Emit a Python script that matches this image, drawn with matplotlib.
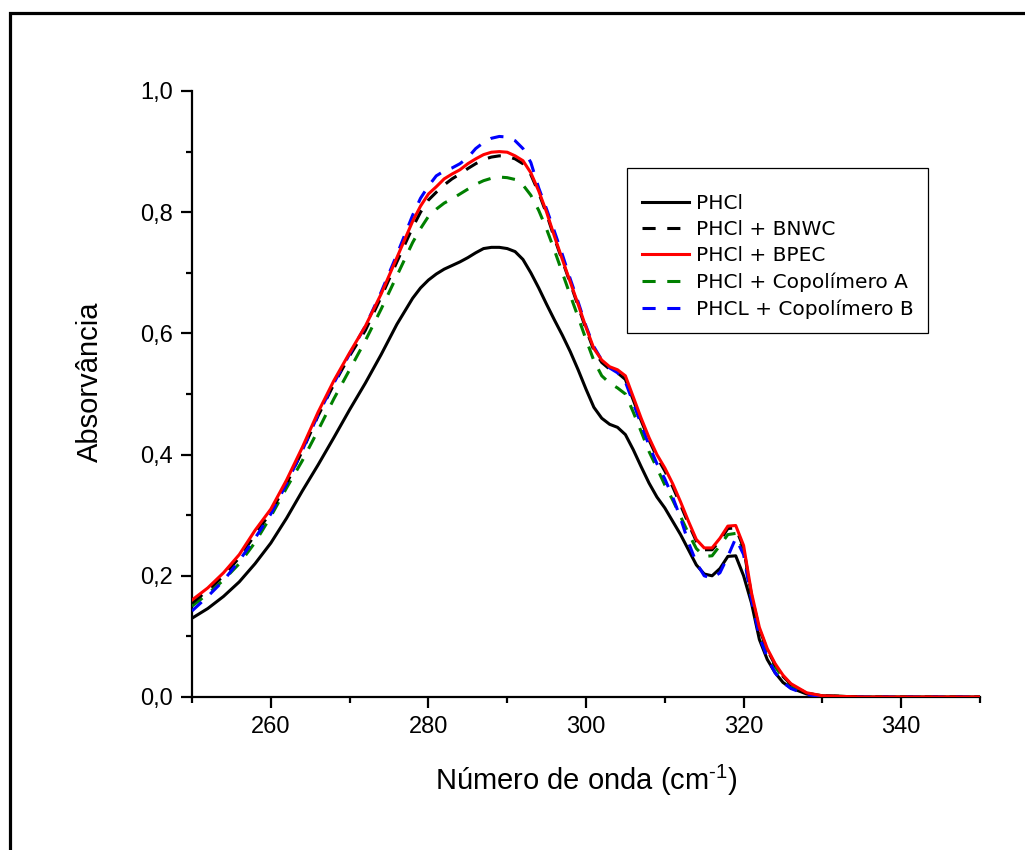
import matplotlib
matplotlib.use("Agg")
import matplotlib.pyplot as plt
from matplotlib.patches import Rectangle
from matplotlib.ticker import MultipleLocator, FuncFormatter

# ---- data -------------------------------------------------------------
wavenumber = [250, 252, 254, 256, 258, 260, 262, 264, 266, 268, 270, 272, 274, 276, 278,
              279, 280, 281, 282, 283, 284, 285, 286, 287, 288, 289, 290, 291, 292, 293,
              294, 295, 296, 297, 298, 299, 300, 301, 302, 303, 304, 305, 306, 307, 308,
              309, 310, 311, 312, 313, 314, 315, 316, 317, 318, 319, 320, 321, 322, 323,
              324, 325, 326, 328, 330, 335, 340, 345, 350]

phcl = [0.130, 0.146, 0.166, 0.190, 0.220, 0.254, 0.295, 0.340, 0.383, 0.428, 0.474, 0.518, 0.565, 0.615, 0.658,
        0.675, 0.688, 0.698, 0.706, 0.712, 0.718, 0.725, 0.733, 0.740, 0.742, 0.742, 0.740, 0.735, 0.722, 0.700,
        0.675, 0.648, 0.622, 0.597, 0.570, 0.540, 0.508, 0.478, 0.460, 0.450, 0.445, 0.433, 0.408, 0.380, 0.353,
        0.330, 0.312, 0.290, 0.268, 0.243, 0.218, 0.203, 0.200, 0.212, 0.232, 0.233, 0.200, 0.155, 0.095, 0.062,
        0.040, 0.024, 0.015, 0.005, 0.002, 0.000, 0.000, 0.000, 0.000]

phcl_bnwc = [0.155, 0.176, 0.200, 0.230, 0.268, 0.305, 0.352, 0.406, 0.464, 0.516, 0.563, 0.605, 0.660, 0.718, 0.775,
             0.800, 0.820, 0.833, 0.845, 0.855, 0.863, 0.872, 0.880, 0.887, 0.891, 0.893, 0.892, 0.888, 0.880, 0.862,
             0.832, 0.797, 0.757, 0.720, 0.683, 0.645, 0.607, 0.572, 0.552, 0.541, 0.535, 0.524, 0.490, 0.456, 0.424,
             0.396, 0.373, 0.347, 0.317, 0.286, 0.257, 0.243, 0.243, 0.258, 0.278, 0.279, 0.246, 0.168, 0.112, 0.078,
             0.053, 0.034, 0.021, 0.006, 0.002, 0.000, 0.000, 0.000, 0.000]

phcl_bpec = [0.160, 0.180, 0.205, 0.235, 0.275, 0.310, 0.358, 0.412, 0.470, 0.522, 0.568, 0.612, 0.665, 0.725, 0.785,
             0.810, 0.830, 0.842, 0.855, 0.863, 0.870, 0.880, 0.888, 0.895, 0.899, 0.900, 0.899, 0.893, 0.885, 0.865,
             0.835, 0.800, 0.760, 0.722, 0.685, 0.648, 0.610, 0.575, 0.556, 0.545, 0.540, 0.530, 0.495, 0.460, 0.428,
             0.400, 0.378, 0.352, 0.322, 0.290, 0.260, 0.246, 0.246, 0.262, 0.282, 0.283, 0.250, 0.172, 0.115, 0.080,
             0.055, 0.036, 0.022, 0.007, 0.002, 0.000, 0.000, 0.000, 0.000]

phcl_copA = [0.150, 0.170, 0.193, 0.220, 0.255, 0.298, 0.345, 0.390, 0.440, 0.492, 0.540, 0.588, 0.640, 0.695, 0.750,
             0.773, 0.793, 0.805, 0.815, 0.822, 0.830, 0.838, 0.846, 0.852, 0.856, 0.858, 0.857, 0.854, 0.845, 0.828,
             0.803, 0.772, 0.737, 0.700, 0.663, 0.627, 0.590, 0.555, 0.530, 0.518, 0.510, 0.500, 0.470, 0.438, 0.405,
             0.378, 0.350, 0.325, 0.298, 0.270, 0.245, 0.232, 0.233, 0.250, 0.268, 0.270, 0.242, 0.165, 0.110, 0.075,
             0.050, 0.032, 0.020, 0.006, 0.002, 0.000, 0.000, 0.000, 0.000]

phcl_copB = [0.142, 0.166, 0.192, 0.225, 0.262, 0.302, 0.352, 0.407, 0.466, 0.518, 0.566, 0.612, 0.668, 0.730, 0.795,
             0.823, 0.843, 0.860, 0.868, 0.873, 0.880, 0.890, 0.905, 0.915, 0.922, 0.925, 0.924, 0.918, 0.905, 0.882,
             0.840, 0.805, 0.768, 0.730, 0.690, 0.652, 0.612, 0.578, 0.556, 0.543, 0.535, 0.520, 0.485, 0.450, 0.415,
             0.385, 0.360, 0.330, 0.295, 0.255, 0.222, 0.200, 0.196, 0.205, 0.232, 0.262, 0.235, 0.160, 0.100, 0.065,
             0.040, 0.024, 0.014, 0.004, 0.001, 0.000, 0.000, 0.000, 0.000]

labels = ["PHCl", "PHCl + BNWC", "PHCl + BPEC", "PHCl + Copolímero A", "PHCL + Copolímero B"]

# ---- figure -----------------------------------------------------------
plt.rcParams['font.family'] = ['Liberation Sans', 'DejaVu Sans']
plt.rcParams['mathtext.fontset'] = 'custom'
plt.rcParams['mathtext.rm'] = 'Liberation Sans'
plt.rcParams['mathtext.default'] = 'regular'

W, H = 1025, 850
fig = plt.figure(figsize=(W / 100, H / 100), dpi=100)
fig.patch.set_facecolor('white')

# outer frame (cut by the image's right and bottom edges)
fig.patches.append(Rectangle((10 / W, -0.1), 1.2, 1 - 13 / H + 0.1,
                             transform=fig.transFigure, fill=False,
                             edgecolor='black', linewidth=2.3, zorder=0))

x0, x1, y0, y1 = 192, 980, 91, 697
ax = fig.add_axes([x0 / W, 1 - y1 / H, (x1 - x0) / W, (y1 - y0) / H])

lw = 2.2
dash = (4.3, 3.8)
ax.plot(wavenumber, phcl, color='black', lw=lw, label=labels[0], zorder=3)
ax.plot(wavenumber, phcl_bnwc, color='black', lw=lw, dashes=dash, label=labels[1], zorder=4)
ax.plot(wavenumber, phcl_bpec, color='red', lw=lw, label=labels[2], zorder=5)
ax.plot(wavenumber, phcl_copA, color='green', lw=lw, dashes=dash, label=labels[3], zorder=3)
ax.plot(wavenumber, phcl_copB, color='blue', lw=lw, dashes=dash, label=labels[4], zorder=4)

ax.set_xlim(250, 350)
ax.set_ylim(0, 1.0)

for s in ['top', 'right']:
    ax.spines[s].set_visible(False)
for s in ['left', 'bottom']:
    ax.spines[s].set_linewidth(1.6)

ax.xaxis.set_major_locator(MultipleLocator(20))
ax.xaxis.set_minor_locator(MultipleLocator(10))
ax.yaxis.set_major_locator(MultipleLocator(0.2))
ax.yaxis.set_minor_locator(MultipleLocator(0.1))
ax.yaxis.set_major_formatter(FuncFormatter(lambda v, p: f"{v:.1f}".replace('.', ',')))
ax.xaxis.set_major_formatter(FuncFormatter(lambda v, p: "" if v in (250, 350) else f"{v:.0f}"))

ax.tick_params(which='major', direction='out', length=8, width=1.6, labelsize=17, pad=6)
ax.tick_params(which='minor', direction='out', length=4.5, width=1.6)

ax.set_xlabel(r"Número de onda (cm$^{\text{-1}}$)", fontsize=21)
ax.set_ylabel("Absorvância", fontsize=21)
ax.xaxis.set_label_coords(0.5, -0.108)
ax.yaxis.set_label_coords(-0.112, 0.521)

leg = ax.legend(loc='upper left', bbox_to_anchor=((627 - x0) / (x1 - x0), (y1 - 168) / (y1 - y0)),
                borderaxespad=0, frameon=True, fancybox=False, framealpha=1,
                edgecolor='black', handlelength=2.35, handletextpad=0.35,
                labelspacing=0.36, borderpad=0.72,
                prop={'family': 'DejaVu Sans', 'size': 14.5},
                title=' ', title_fontsize=2)
leg.get_frame().set_linewidth(0.9)

fig.savefig("out.png", dpi=100)
